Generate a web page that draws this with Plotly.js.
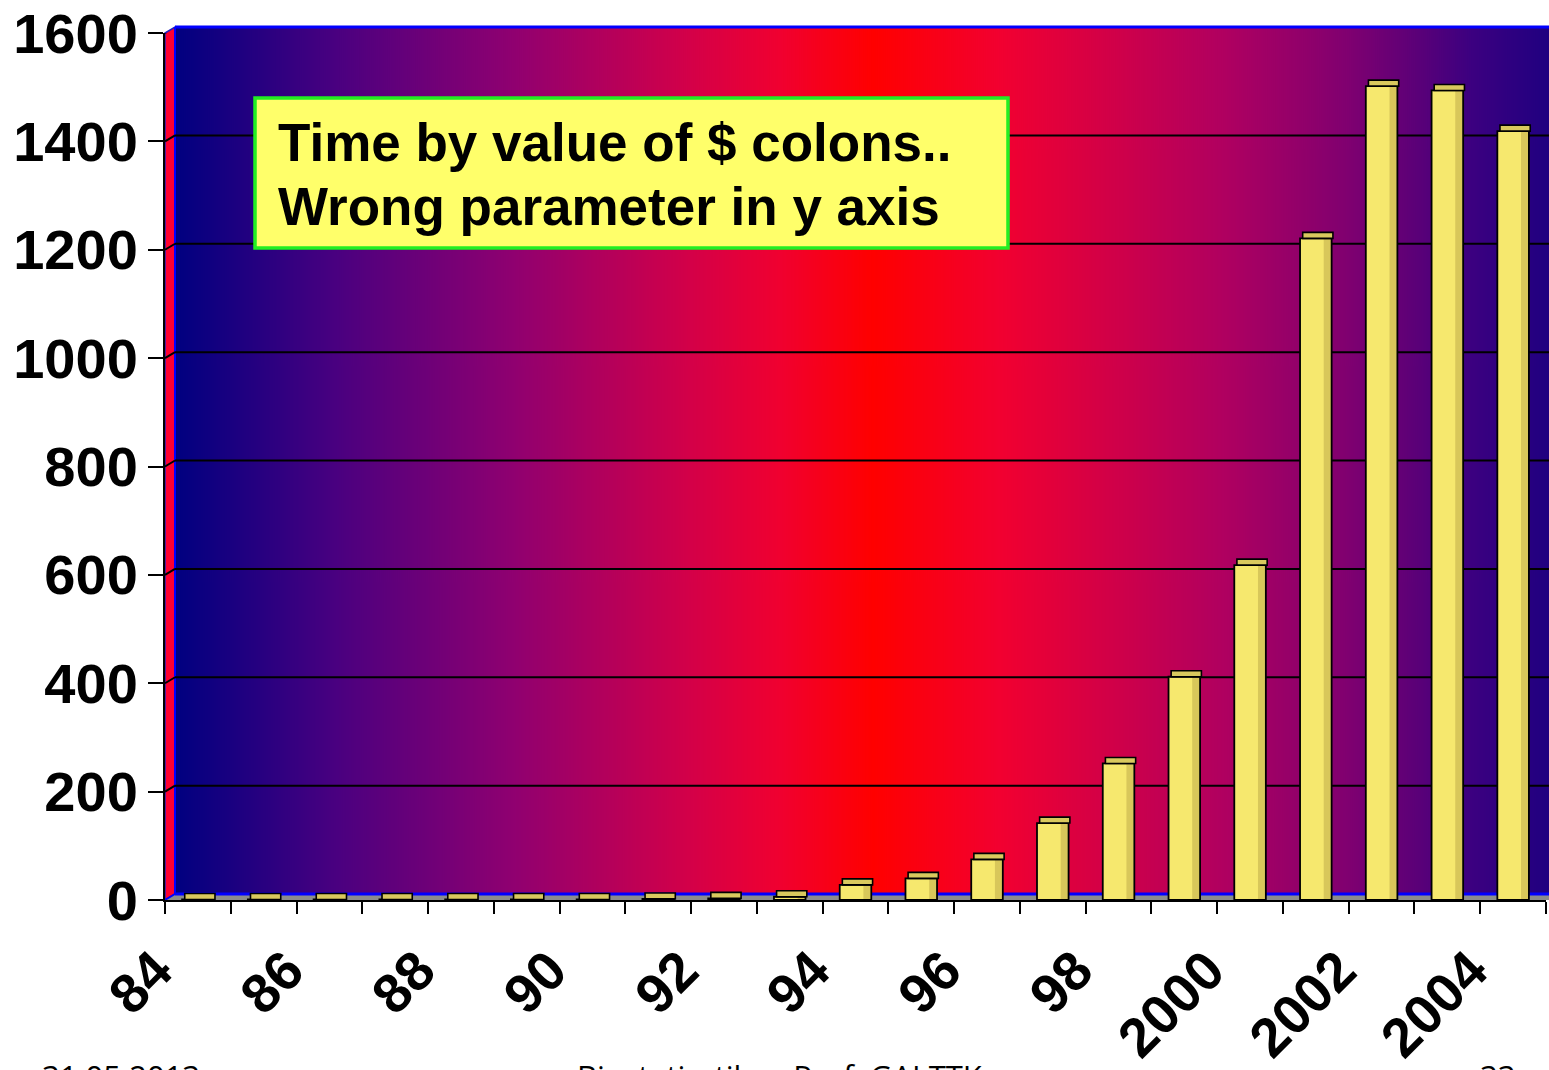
<!DOCTYPE html>
<html>
<head>
<meta charset="utf-8">
<script src="https://cdn.plot.ly/plotly-3.0.1.min.js"></script>
<style>
html,body{margin:0;padding:0;background:#fff;overflow:hidden;}
#chart{width:1549px;height:1070px;}
</style>
</head>
<body>
<div id="chart"></div>
<script>
// ---- data ----
const years = ['84','85','86','87','88','89','90','91','92','93','94','95','96','97','98','99','2000','2001','2002','2003','2004'];
const values = [1,1,1,1,1,1,1,2,3,6,28,40,75,142,252,412,618,1221,1502,1494,1419];
const yTicks = [0,200,400,600,800,1000,1200,1400,1600];
const tickLabels = years.map((y,i) => (i % 2 === 0 ? y : ''));
const noteLines = ['Time by value of $ colons..', 'Wrong parameter in y axis'];
const footer = ['31.05.2013', 'Biostatisztika - Prof. GAI TTK', '33'];

// ---- geometry (pixels) ----
const W = 1549, H = 1070, L = 165, T = 27, B = 170;
const PW = W - L, PH = H - T - B;       // plot area 1384 x 873
const DX = 10, DY = 6;                   // 3D depth offset
const px = v => v / PW, py = v => v / PH;
const capH = 11;                         // bar top cap thickness (axis units, style only)

// ---- gradient back wall ----
function gradientURL() {
  const c = document.createElement('canvas');
  c.width = 1374; c.height = 4;
  const g = c.getContext('2d');
  const gr = g.createLinearGradient(0, 0, c.width, 0);
  const stops = [[0,'#000080'],[0.118,'#4a0080'],[0.247,'#900070'],[0.376,'#d40048'],[0.44,'#f00030'],
                 [0.508,'#ff0000'],[0.60,'#f20030'],[0.763,'#b00060'],[0.853,'#800070'],[0.905,'#5a0078'],
                 [0.943,'#3c0080'],[1,'#200080']];
  stops.forEach(s => gr.addColorStop(s[0], s[1]));
  g.fillStyle = gr; g.fillRect(0, 0, c.width, c.height);
  return c.toDataURL();
}

const shapes = [];
// left wall
shapes.push({type:'path', xref:'paper', yref:'paper', layer:'below',
  path:`M0,0 L0,${1-py(DY)} L${px(DX)},1 L${px(DX)},${py(DY)} Z`,
  fillcolor:'#ff0030', line:{color:'#2020c0', width:1.5}});
// floor
shapes.push({type:'path', xref:'paper', yref:'paper', layer:'below',
  path:`M0,0 L${px(DX)},${py(DY)} L1,${py(DY)} L1,0 Z`,
  fillcolor:'#8c8c8c', line:{width:0}});
shapes.push({type:'line', xref:'paper', yref:'paper', layer:'below',
  x0:px(DX), x1:1, y0:py(DY), y1:py(DY), line:{color:'#0000ff', width:3}});
shapes.push({type:'line', xref:'paper', yref:'paper', layer:'below',
  x0:0, x1:px(DX), y0:0, y1:py(DY), line:{color:'#0000ff', width:2}});
shapes.push({type:'line', xref:'paper', yref:'paper', layer:'below',
  x0:px(DX), x1:1, y0:1, y1:1, line:{color:'#0000ff', width:3}});
shapes.push({type:'line', xref:'paper', yref:'paper', layer:'below',
  x0:px(DX), x1:px(DX), y0:py(DY), y1:1, line:{color:'#0000ff', width:2}});
// back-wall gridlines
yTicks.filter(v => v > 0).forEach(v => {
  shapes.push({type:'line', xref:'paper', yref:'y', layer:'below', ysizemode:'pixel', yanchor:v,
    x0:px(DX), x1:1, y0:DY, y1:DY, line:{color:'#000', width:2}});
  shapes.push({type:'line', xref:'paper', yref:'y', layer:'below', ysizemode:'pixel', yanchor:v,
    x0:0, x1:px(DX), y0:0, y1:DY, line:{color:'#000', width:2}});
});
// note box
shapes.push({type:'rect', xref:'paper', yref:'paper', layer:'above',
  x0:px(255-L), x1:px(1008-L), y0:py(900-248), y1:py(900-98),
  fillcolor:'#ffff6a', line:{color:'#22ee22', width:3.5}});

const annotations = [];
const baselines = [160, 223];
noteLines.forEach((t,i) => {
  annotations.push({text:t, xref:'paper', yref:'paper', x:px(276-L), xanchor:'left',
    y:py(900-baselines[i]+17), yanchor:'middle', showarrow:false, align:'left',
    font:{family:'Liberation Sans, Arial, sans-serif', size:53, color:'#000', weight:'bold'}});
});
const footX = [40, 575, 1478];
footer.forEach((t,i) => {
  annotations.push({text:t, xref:'paper', yref:'paper', x:px(footX[i]-L), xanchor:'left',
    y:-py(1053-900), yanchor:'top', showarrow:false,
    font:{family:'Open Sans, Noto Sans, sans-serif', size:31, color:'#000'}});
});

const xFont = {family:'Liberation Sans, Arial, sans-serif', size:55, color:'#000', weight:'bold'};

const data = [
  {type:'bar', x:years, y:values, width:0.48, offset:-0.24, hoverinfo:'skip',
   marker:{color:'#f6e86e', line:{width:0}}},
  {type:'bar', x:years, y:values, width:0.11, offset:0.12, hoverinfo:'skip',
   marker:{color:'#d8c75a', line:{width:0}}},
  {type:'bar', x:years, y:values, width:0.48, offset:-0.24, hoverinfo:'skip',
   marker:{color:'rgba(0,0,0,0)', line:{color:'#000', width:1.8}}},
  {type:'bar', x:years, y:values.map(() => capH), base:values, width:0.46, offset:-0.2, hoverinfo:'skip',
   marker:{color:'#d9c95e', line:{color:'#000', width:1.6}}}
];

const layout = {
  width:W, height:H,
  margin:{l:L, r:0, t:T, b:B, pad:0},
  paper_bgcolor:'#ffffff', plot_bgcolor:'rgba(0,0,0,0)',
  showlegend:false, barmode:'overlay',
  xaxis:{type:'category', range:[-0.5, years.length-0.5], domain:[0, 1-px(3)],
    tickmode:'array', tickvals:years, ticktext:tickLabels, tickson:'boundaries',
    ticks:'outside', ticklen:12, tickwidth:2, tickcolor:'#000',
    showline:true, linecolor:'#000', linewidth:2, showgrid:false, zeroline:false,
    tickangle:-45, tickfont:xFont, ticklabelshift:-42, ticklabelstandoff:14,
    automargin:false, fixedrange:true},
  yaxis:{range:[0,1600], domain:[0, 1-py(DY)], tickmode:'array', tickvals:yTicks,
    ticks:'outside', ticklen:15, tickwidth:2, tickcolor:'#000', ticklabelstandoff:-1,
    showline:true, linecolor:'#000', linewidth:2, showgrid:false, zeroline:false,
    tickfont:{family:'Liberation Sans, Arial, sans-serif', size:56, color:'#000', weight:'bold'},
    automargin:false, fixedrange:true},
  images:[{source:gradientURL(), xref:'paper', yref:'paper', x:px(DX), y:1,
    sizex:1-px(DX), sizey:1-py(DY), sizing:'stretch', xanchor:'left', yanchor:'top', layer:'below'}],
  shapes:shapes,
  annotations:annotations
};

Plotly.newPlot('chart', data, layout, {displayModeBar:false, staticPlot:true});
</script>
</body>
</html>
